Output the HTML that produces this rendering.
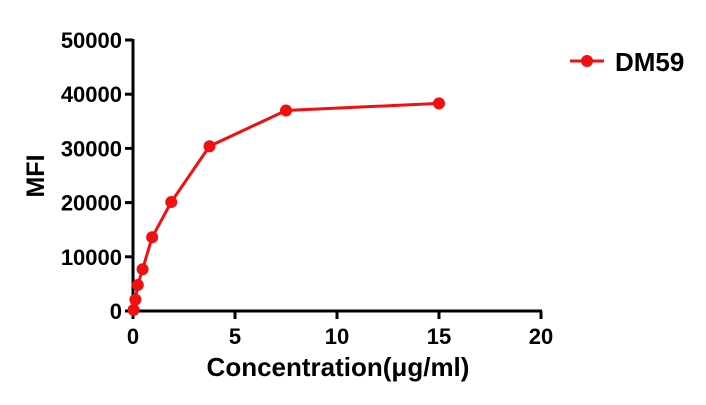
<!DOCTYPE html>
<html><head><meta charset="utf-8"><style>
body{margin:0;background:#fff;}
svg text{font-family:"Liberation Sans",Arial,sans-serif;font-weight:bold;fill:#000;}
</style></head><body>
<svg id="chart" width="706" height="400">
<g id="axes"></g><g id="series"></g>
<g>
<line x1="570" y1="61" x2="604" y2="61" stroke="#f01010" stroke-width="3"/>
<circle cx="587" cy="61" r="6" fill="#f01010"/>
<text x="615" y="71" font-size="26">DM59</text>
</g>
<text x="338" y="376" font-size="26" text-anchor="middle">Concentration(μg/ml)</text>
<text transform="translate(44,176) rotate(-90)" font-size="25" text-anchor="middle">MFI</text>
</svg>
<script>
const conc=[0.029,0.117,0.234,0.469,0.938,1.875,3.75,7.5,15];
const mfi=[200,2100,4800,7700,13600,20100,30400,37000,38300];
const xTicks=[0,5,10,15,20];
const yTicks=[0,10000,20000,30000,40000,50000];
const X0=133,X1=541,Y0=311,Y1=40;
const sx=v=>X0+(X1-X0)*v/20;
const sy=v=>Y0-(Y0-Y1)*v/50000;
const NS="http://www.w3.org/2000/svg";
const ax=document.getElementById('axes'),se=document.getElementById('series');
function mk(t,a,p){const e=document.createElementNS(NS,t);for(const k in a)e.setAttribute(k,a[k]);p.appendChild(e);return e;}
let l=mk('line',{x1:X0,y1:Y0,x2:X1+1,y2:Y0,stroke:'#000','stroke-width':3},ax);


l=mk('line',{x1:X0,y1:Y0+1,x2:X0,y2:Y1-1,stroke:'#000','stroke-width':3},ax);


xTicks.forEach(v=>{const t=mk('line',{x1:sx(v),y1:Y0,x2:sx(v),y2:Y0+8,stroke:'#000','stroke-width':3},ax);


const tx=mk('text',{x:sx(v),y:Y0+33,'font-size':22,'text-anchor':'middle'},ax);tx.textContent=v;

});
yTicks.forEach(v=>{const t=mk('line',{x1:X0-8,y1:sy(v),x2:X0,y2:sy(v),stroke:'#000','stroke-width':3},ax);


const tx=mk('text',{x:X0-11,y:sy(v)+8,'font-size':22,'text-anchor':'end'},ax);tx.textContent=v;

});
const pl=mk('polyline',{points:conc.map((c,i)=>sx(c)+','+sy(mfi[i])).join(' '),fill:'none',stroke:'#f01010','stroke-width':3},se);


conc.forEach((c,i)=>{const p=mk('circle',{cx:sx(c),cy:sy(mfi[i]),r:6,fill:'#f01010'},se);

});
</script>
</body></html>
